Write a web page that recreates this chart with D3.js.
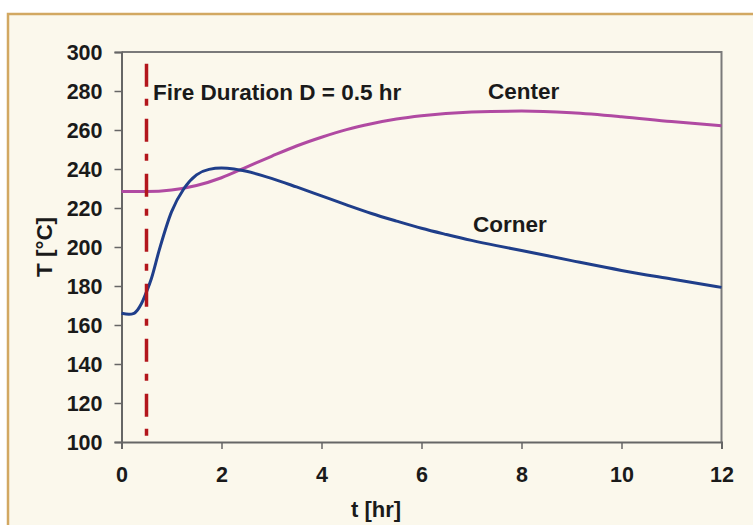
<!DOCTYPE html>
<html>
<head>
<meta charset="utf-8">
<script src="https://cdn.jsdelivr.net/npm/d3@7/dist/d3.min.js"></script>
<style>
  html, body { margin: 0; padding: 0; background: #ffffff; }
  svg { display: block; }
  text { font-family: "Liberation Sans", Arial, sans-serif; font-weight: bold; fill: #1a1a1a; }
</style>
</head>
<body>
<script>
// ---- data ----
const cornerT = [0, 0.15, 0.25, 0.4, 0.5, 0.6, 0.75, 1, 1.25, 1.5, 1.75, 2, 2.25, 2.5, 3, 3.5, 4, 4.5, 5, 5.5, 6, 6.5, 7, 7.5, 8, 9, 10, 11, 12];
const cornerTemp = [166, 165.5, 166, 171, 177, 184, 198, 218, 230, 237, 239.8, 240.5, 240, 238.8, 235.2, 230.8, 226.2, 221.6, 217.2, 213.3, 209.6, 206.4, 203.4, 200.7, 198.2, 193, 188, 183.6, 179.3];
const centerT = [0, 0.5, 1, 1.5, 2, 2.5, 3, 3.5, 4, 4.5, 5, 5.5, 6, 7, 8, 9, 10, 11, 12];
const centerTemp = [228.4, 228.4, 229.2, 231.5, 235.5, 241, 246.5, 251.8, 256.3, 260.2, 263.2, 265.6, 267.3, 269.2, 269.7, 268.8, 266.8, 264.3, 262.2];
const fireDuration = 0.5;
const fireLineTemps = [294, 102.5];
const xTicks = [0, 2, 4, 6, 8, 10, 12];
const yTicks = [100, 120, 140, 160, 180, 200, 220, 240, 260, 280, 300];
const labels = [
  { text: "Fire Duration D = 0.5 hr", t: 0.63, temp: 275.5 },
  { text: "Center", t: 7.33, temp: 275.8 },
  { text: "Corner", t: 7.03, temp: 207.5 }
];

const W = 753, H = 525;
const M = { left: 121.5, right: 721.5, top: 52, bottom: 442 };

const svg = d3.select("body").append("svg").attr("width", W).attr("height", H);

// frame background
svg.append("rect").attr("x", 8).attr("y", 14).attr("width", 800).attr("height", 600)
  .attr("fill", "#fbf8ec").attr("stroke", "#d2a862").attr("stroke-width", 2.5);

const x = d3.scaleLinear().domain([0, 12]).range([M.left, M.right]);
const y = d3.scaleLinear().domain([100, 300]).range([M.bottom, M.top]);

// plot frame (top and right)
svg.append("path")
  .attr("d", `M${M.left},${M.top}H${M.right}V${M.bottom}`)
  .attr("fill", "none").attr("stroke", "#7a7a7a").attr("stroke-width", 2);

// axes
const xAxis = svg.append("g").attr("transform", `translate(0,${M.bottom})`)
  .call(d3.axisBottom(x).tickValues(xTicks).tickSize(7).tickPadding(18).tickFormat(d3.format("d")));
const yAxis = svg.append("g").attr("transform", `translate(${M.left},0)`)
  .call(d3.axisLeft(y).tickValues(yTicks).tickSize(7).tickPadding(12).tickFormat(d3.format("d")));
[xAxis, yAxis].forEach(g => {
  g.select(".domain").attr("stroke", "#666").attr("stroke-width", 2);
  g.selectAll(".tick line").attr("stroke", "#666").attr("stroke-width", 1.5);
  g.selectAll(".tick text").style("font-size", "21.5px").style("font-family", "'Liberation Sans', Arial, sans-serif")
    .style("font-weight", "bold").attr("fill", "#1a1a1a");
});
yAxis.selectAll(".tick text").attr("dy", "0.36em");

// axis titles
svg.append("text").attr("x", 376).attr("y", 517).attr("text-anchor", "middle")
  .style("font-size", "22px").text("t [hr]");
svg.append("text").attr("transform", `translate(52,${(M.top + M.bottom) / 2}) rotate(-90)`)
  .attr("text-anchor", "middle").style("font-size", "22.5px").text("T [°C]");

// lines
const line = d3.line().x(d => x(d[0])).y(d => y(d[1])).curve(d3.curveMonotoneX);
svg.append("path").datum(centerT.map((t, i) => [t, centerTemp[i]]))
  .attr("d", line).attr("fill", "none").attr("stroke", "#b04aa2").attr("stroke-width", 3);
svg.append("path").datum(cornerT.map((t, i) => [t, cornerTemp[i]]))
  .attr("d", line).attr("fill", "none").attr("stroke", "#1f3e8a").attr("stroke-width", 3);

// fire duration line
svg.append("line")
  .attr("x1", x(fireDuration)).attr("x2", x(fireDuration))
  .attr("y1", y(fireLineTemps[0])).attr("y2", y(fireLineTemps[1]))
  .attr("stroke", "#b3161c").attr("stroke-width", 3.5)
  .attr("stroke-dasharray", "23,12,7,13");

// labels
labels.forEach(l => {
  svg.append("text").attr("x", x(l.t)).attr("y", y(l.temp))
    .style("font-size", "22.5px").text(l.text);
});
</script>
</body>
</html>
